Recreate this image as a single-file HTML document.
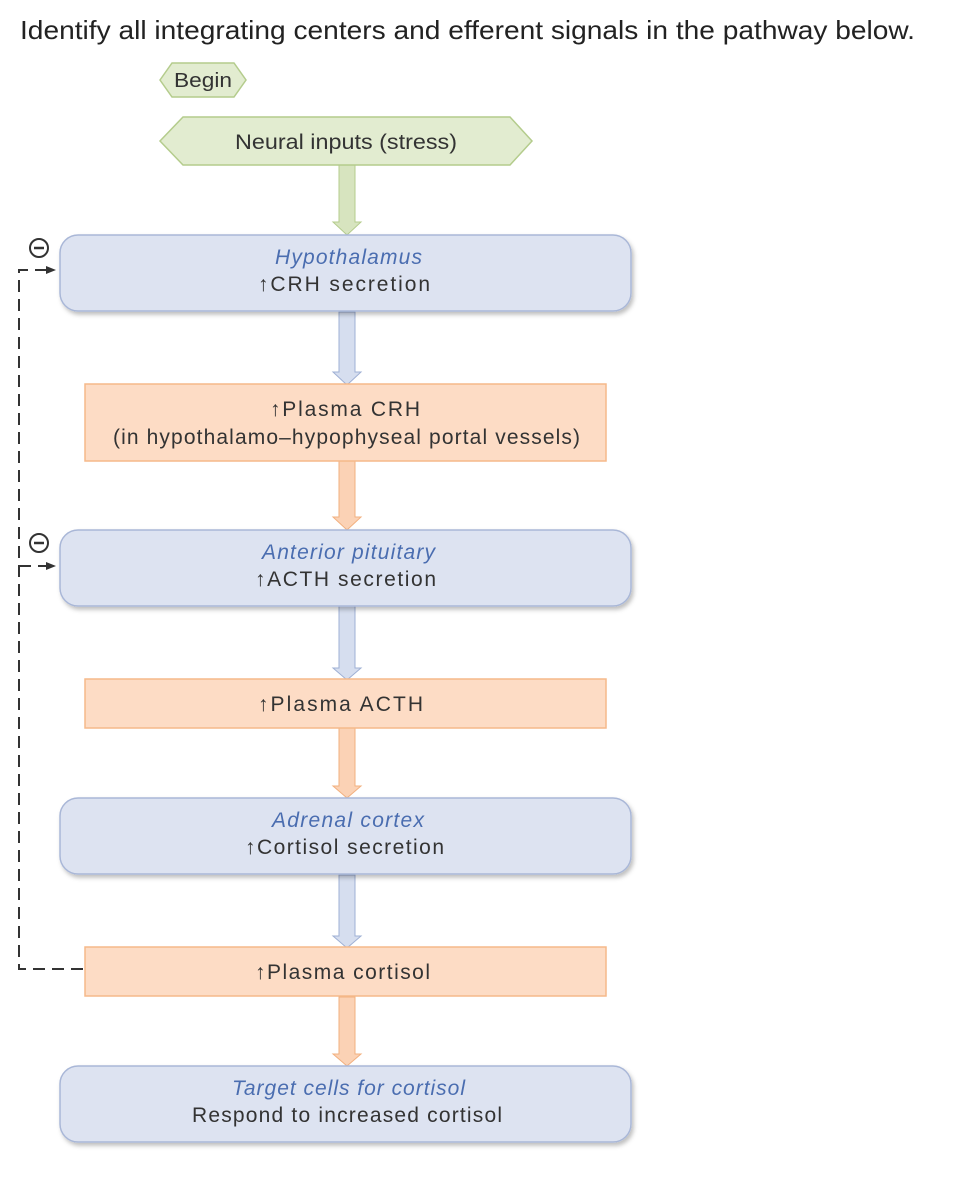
<!DOCTYPE html>
<html><head><style>
body{margin:0;background:#fff;width:970px;height:1190px;overflow:hidden}
svg{display:block}
text{font-family:"Liberation Sans",sans-serif}
</style></head><body>
<svg width="970" height="1190" viewBox="0 0 970 1190" xmlns="http://www.w3.org/2000/svg">
<defs>
<filter id="sh" x="-5%" y="-10%" width="110%" height="130%"><feDropShadow dx="2" dy="3" stdDeviation="2" flood-color="#000" flood-opacity="0.25"/></filter>
</defs>
<text x="20" y="39" font-size="26" fill="#222" textLength="895" lengthAdjust="spacingAndGlyphs">Identify all integrating centers and efferent signals in the pathway below.</text>

<g>
<path d="M339 165 V222 H333 L347 235 L361 222 H355 V165 Z" fill="#d7e4bf" stroke="#b4cc8c"/>
<path d="M339 312 V372 H333 L347 385 L361 372 H355 V312 Z" fill="#d6deef" stroke="#9fb0d4"/>
<path d="M339 461 V517 H333 L347 530 L361 517 H355 V461 Z" fill="#fbd2b5" stroke="#f2b07f"/>
<path d="M339 606 V668 H333 L347 680 L361 668 H355 V606 Z" fill="#d6deef" stroke="#9fb0d4"/>
<path d="M339 728 V786 H333 L347 798 L361 786 H355 V728 Z" fill="#fbd2b5" stroke="#f2b07f"/>
<path d="M339 875 V936 H333 L347 948 L361 936 H355 V875 Z" fill="#d6deef" stroke="#9fb0d4"/>
<path d="M339 997 V1054 H333 L347 1066 L361 1054 H355 V997 Z" fill="#fbd2b5" stroke="#f2b07f"/>
</g>

<polygon points="160,80 172,63 234,63 246,80 234,97 172,97" fill="#e2ecd0" stroke="#b4cc8c" stroke-width="1.5"/>
<text x="174" y="87" font-size="20" fill="#333" textLength="58" lengthAdjust="spacingAndGlyphs">Begin</text>
<polygon points="160,141 183,117 510,117 532,141 510,165 183,165" fill="#e2ecd0" stroke="#b4cc8c" stroke-width="1.5"/>
<text x="235" y="149" font-size="21" fill="#333" textLength="222" lengthAdjust="spacingAndGlyphs">Neural inputs (stress)</text>

<g fill="#dde3f1" stroke="#a9b7d7" stroke-width="1.5" filter="url(#sh)">
<rect x="60" y="235" width="571" height="76" rx="18"/>
<rect x="60" y="530" width="571" height="76" rx="18"/>
<rect x="60" y="798" width="571" height="76" rx="18"/>
<rect x="60" y="1066" width="571" height="76" rx="18"/>
</g>
<g fill="#fddcc5" stroke="#f5b98a" stroke-width="1.5">
<rect x="85" y="384" width="521" height="77"/>
<rect x="85" y="679" width="521" height="49"/>
<rect x="85" y="947" width="521" height="49"/>
</g>

<g font-size="21" lengthAdjust="spacingAndGlyphs">
<text x="275" y="264" fill="#4a6db0" font-style="italic" textLength="147">Hypothalamus</text>
<text x="258" y="291" fill="#333" textLength="172">↑CRH secretion</text>
<text x="270" y="416" fill="#333" textLength="150">↑Plasma CRH</text>
<text x="113" y="444" fill="#333" textLength="467">(in hypothalamo–hypophyseal portal vessels)</text>
<text x="262" y="559" fill="#4a6db0" font-style="italic" textLength="173">Anterior pituitary</text>
<text x="255" y="586" fill="#333" textLength="181">↑ACTH secretion</text>
<text x="258" y="711" fill="#333" textLength="165">↑Plasma ACTH</text>
<text x="272" y="827" fill="#4a6db0" font-style="italic" textLength="152">Adrenal cortex</text>
<text x="245" y="854" fill="#333" textLength="199">↑Cortisol secretion</text>
<text x="255" y="979" fill="#333" textLength="175">↑Plasma cortisol</text>
<text x="232" y="1095" fill="#4a6db0" font-style="italic" textLength="233">Target cells for cortisol</text>
<text x="192" y="1122" fill="#333" textLength="310">Respond to increased cortisol</text>
</g>

<g stroke="#333" stroke-width="2" fill="none" stroke-dasharray="12,7">
<path d="M83 969 H19 V270 H48"/>
<path d="M19 566 H48"/>
</g>
<polygon points="46,266 56,270 46,274" fill="#333"/>
<polygon points="46,562 56,566 46,570" fill="#333"/>
<g stroke="#333" stroke-width="2" fill="#fff">
<circle cx="39" cy="248" r="9"/>
<circle cx="39" cy="543" r="9"/>
</g>
<g stroke="#333" stroke-width="2.5">
<line x1="34" y1="248" x2="44" y2="248"/>
<line x1="34" y1="543" x2="44" y2="543"/>
</g>
</svg>
</body></html>
